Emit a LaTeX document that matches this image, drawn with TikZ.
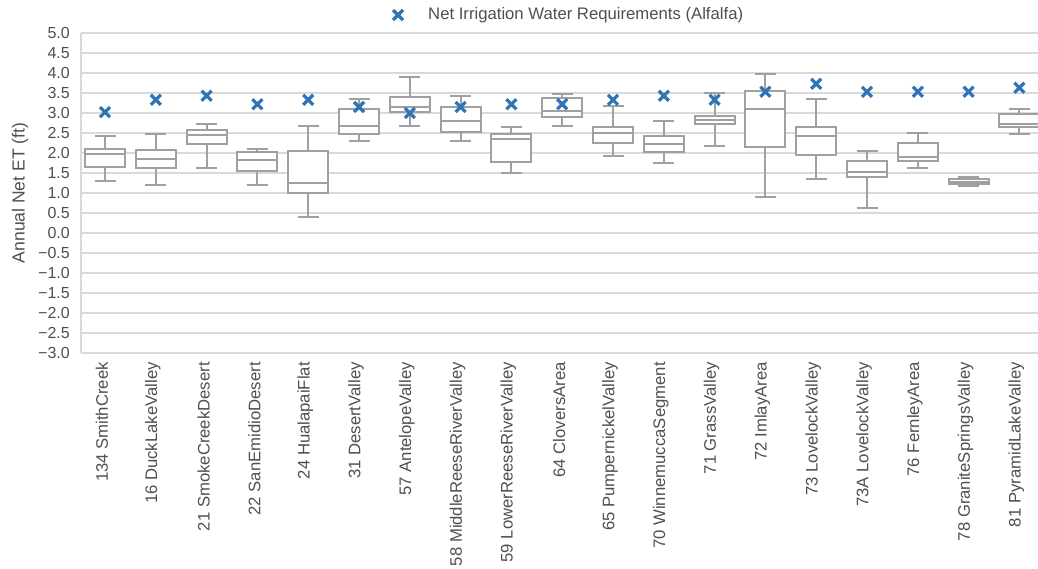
\documentclass[tikz,border=0pt]{standalone}
\usepackage{fontspec}
\setmainfont{Liberation Sans}
\definecolor{txt}{HTML}{505050}
\definecolor{gridc}{HTML}{D9D9D9}
\definecolor{boxc}{HTML}{A0A0A0}
\definecolor{markc}{HTML}{2E75B6}
\begin{document}
\begin{tikzpicture}[x=1pt,y=-1pt,
  gridline/.style={draw=gridc,line width=1.5pt},
  boxline/.style={draw=boxc,line width=2pt},
  markline/.style={draw=markc,line width=3.2pt},
  ticklabel/.style={anchor=east,inner sep=0pt,text=txt,font=\fontsize{16}{19}\selectfont},
  catlabel/.style={anchor=east,rotate=90,inner sep=0pt,text=txt,font=\fontsize{16.7}{20}\selectfont},
  legendtext/.style={anchor=west,inner sep=0pt,text=txt,font=\fontsize{16.7}{20}\selectfont},
  axistitle/.style={rotate=90,inner sep=0pt,text=txt,font=\fontsize{17.5}{21}\selectfont}]
\useasboundingbox (0,0) rectangle (1038,569);
\fill[white] (0,0) rectangle (1038,569);
% gridlines and tick labels
\foreach \v/\l [count=\k] in {5/5.0,4.5/4.5,4/4.0,3.5/3.5,3/3.0,2.5/2.5,2/2.0,1.5/1.5,1/1.0,0.5/0.5,0/0.0,
  -0.5/−0.5,-1/−1.0,-1.5/−1.5,-2/−2.0,-2.5/−2.5,-3/−3.0}{
  \pgfmathsetmacro\yy{233-40*\v}
  \draw[gridline] (81,\yy) -- (1038,\yy);
  \node[ticklabel] (t\k) at (70,\yy) {\l};
}
\draw[gridline] (81,33) -- (81,353);
% axis title
\node[axistitle] (ytitle) at (20,193) {Annual Net ET (ft)};
% legend
\draw[markline] (393,10) -- (403,20) (393,20) -- (403,10);
\node[legendtext] (leg) at (428,15) {Net Irrigation Water Requirements (Alfalfa)};
% boxes
\foreach \lo/\qa/\me/\qb/\hi/\mk/\name [count=\i] in {
  1.3/1.65/1.98/2.1/2.43/3.02/134 SmithCreek,
  1.2/1.62/1.85/2.08/2.48/3.33/16 DuckLakeValley,
  1.62/2.22/2.45/2.57/2.72/3.43/21 SmokeCreekDesert,
  1.2/1.55/1.82/2.02/2.1/3.22/22 SanEmidioDesert,
  0.4/1.0/1.25/2.05/2.68/3.33/24 HualapaiFlat,
  2.3/2.48/2.68/3.1/3.35/3.15/31 DesertValley,
  2.68/3.02/3.15/3.4/3.9/3.0/57 AntelopeValley,
  2.3/2.53/2.8/3.15/3.42/3.15/58 MiddleReeseRiverValley,
  1.5/1.77/2.35/2.48/2.65/3.22/59 LowerReeseRiverValley,
  2.68/2.9/3.05/3.38/3.47/3.22/64 CloversArea,
  1.93/2.25/2.5/2.65/3.18/3.33/65 PumpernickelValley,
  1.75/2.02/2.22/2.43/2.8/3.43/70 WinnemuccaSegment,
  2.18/2.72/2.83/2.92/3.5/3.33/71 GrassValley,
  0.9/2.15/3.1/3.55/3.98/3.53/72 ImlayArea,
  1.35/1.95/2.43/2.65/3.35/3.73/73 LovelockValley,
  0.62/1.4/1.53/1.8/2.05/3.53/73A LovelockValley,
  1.62/1.8/1.9/2.25/2.5/3.53/76 FernleyArea,
  1.18/1.22/1.28/1.35/1.4/3.53/78 GraniteSpringsValley,
  2.48/2.65/2.72/2.97/3.1/3.63/81 PyramidLakeValley}{
  \pgfmathsetmacro\cx{105+(\i-1)*50.8}
  \pgfmathsetmacro\ylo{233-40*\lo}
  \pgfmathsetmacro\yqa{233-40*\qa}
  \pgfmathsetmacro\yme{233-40*\me}
  \pgfmathsetmacro\yqb{233-40*\qb}
  \pgfmathsetmacro\yhi{233-40*\hi}
  \pgfmathsetmacro\ymk{233-40*\mk}
  \draw[boxline] (\cx,\ylo) -- (\cx,\yqa) (\cx,\yqb) -- (\cx,\yhi);
  \draw[boxline] (\cx-10.5,\ylo) -- (\cx+10.5,\ylo) (\cx-10.5,\yhi) -- (\cx+10.5,\yhi);
  \draw[boxline,fill=white] (\cx-20,\yqa) rectangle (\cx+20,\yqb);
  \draw[boxline] (\cx-20,\yme) -- (\cx+20,\yme);
  \draw[markline] (\cx-5,\ymk-5) -- (\cx+5,\ymk+5) (\cx-5,\ymk+5) -- (\cx+5,\ymk-5);
  \node[catlabel] (c\i) at (\cx-3,362) {\name};
}
\end{tikzpicture}
\end{document}
